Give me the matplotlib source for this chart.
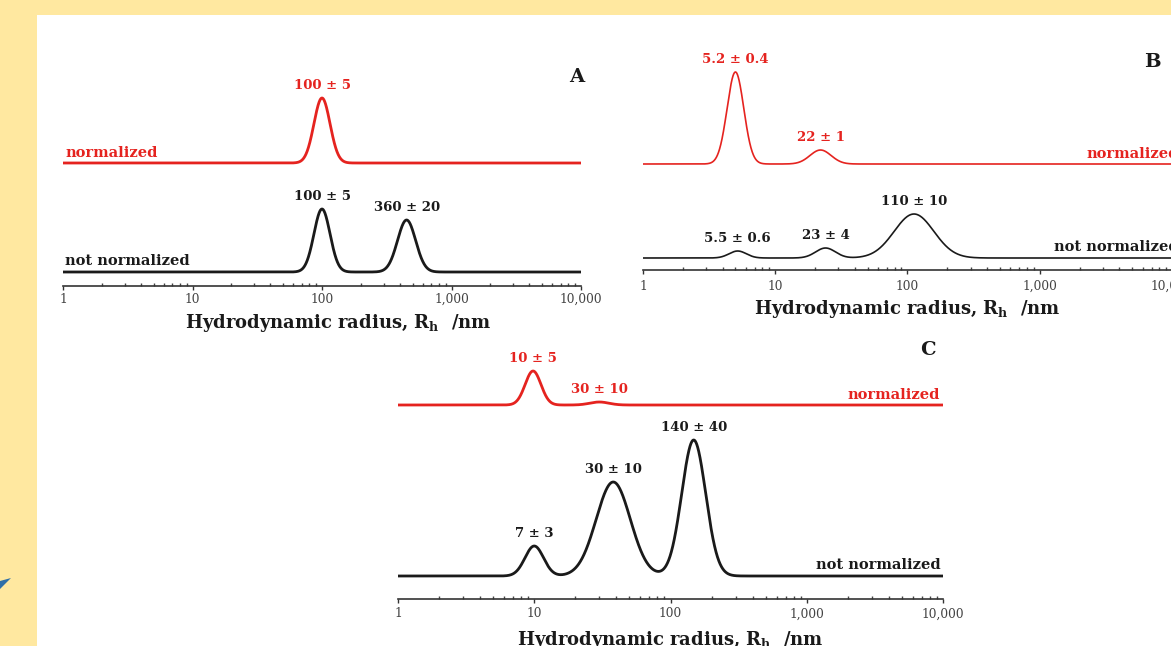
import numpy as np
import matplotlib
matplotlib.use("Agg")
import matplotlib.pyplot as plt
import matplotlib.transforms as mtransforms
from matplotlib.patches import Rectangle, Polygon

plt.rcParams['font.family'] = ['DejaVu Serif']
plt.rcParams['mathtext.fontset'] = 'custom'
plt.rcParams['mathtext.rm'] = 'DejaVu Serif:bold'

W, H = 1171, 646
RED = '#E5231F'
BLACK = '#1a1a1a'

tick_vals = [1, 10, 100, 1000, 10000]
tick_labels = ["1", "10", "100", "1,000", "10,000"]

# peaks: centre (nm), height (px), width (decades)
a_norm_centre = [100]
a_norm_height = [65]
a_norm_width = [0.062]
a_norm_labels = ["100 ± 5"]
a_raw_centre = [100, 450]
a_raw_height = [63, 52]
a_raw_width = [0.062, 0.07]
a_raw_labels = ["100 ± 5", "360 ± 20"]

b_norm_centre = [5.0, 22]
b_norm_height = [92, 14]
b_norm_width = [0.063, 0.08]
b_norm_labels = ["5.2 ± 0.4", "22 ± 1"]
b_raw_centre = [5.2, 24, 112]
b_raw_height = [7, 10, 44]
b_raw_width = [0.065, 0.075, 0.15]
b_raw_labels = ["5.5 ± 0.6", "23 ± 4", "110 ± 10"]

c_norm_centre = [9.8, 30]
c_norm_height = [34, 3]
c_norm_width = [0.058, 0.07]
c_norm_labels = ["10 ± 5", "30 ± 10"]
c_raw_centre = [10, 38, 148]
c_raw_height = [30, 94, 136]
c_raw_width = [0.068, 0.125, 0.088]
c_raw_labels = ["7 ± 3", "30 ± 10", "140 ± 40"]

fig = plt.figure(figsize=(W / 100, H / 100), dpi=100)
fig.patch.set_facecolor('#FFE8A0')
fig.patches.append(Rectangle((37 / W, 0), (W - 37) / W, (H - 15) / H,
                             transform=fig.transFigure, facecolor='white',
                             edgecolor='none', zorder=-10))
fig.patches.append(Polygon([(0, 1 - 581 / H), (11 / W, 1 - 578 / H), (0, 1 - 589 / H)],
                           transform=fig.transFigure, facecolor='#2F6FA8',
                           edgecolor='none', zorder=-5))

r = np.logspace(0, 4, 3000)


def curve(base, centres, heights, widths):
    y = np.full_like(r, base, dtype=float)
    for c, h, w in zip(centres, heights, widths):
        y += h * np.exp(-0.5 * ((np.log10(r) - np.log10(c)) / w) ** 2)
    return y


def panel(left, right, axis_y, top_y, lw, norm_base, raw_base,
          norm_peaks, raw_peaks, letter, letter_xy, name_side, label_x, tick_pad, label_dy):
    ax = fig.add_axes([left / W, 1 - axis_y / H, (right - left) / W, (axis_y - top_y) / H])
    ax.set_facecolor('none')
    ax.set_xscale('log')
    ax.set_xlim(1, 10000)
    ax.set_ylim(0, axis_y - top_y)
    for s in ['top', 'right', 'left']:
        ax.spines[s].set_visible(False)
    ax.spines['bottom'].set_linewidth(1.2)
    ax.spines['bottom'].set_color('#333333')
    ax.set_yticks([])
    ax.set_xticks(tick_vals)
    ax.set_xticklabels(tick_labels, fontsize=8.8, color='#444444')
    ax.tick_params(axis='x', which='major', direction='out', length=3, width=1,
                   color='#333333', pad=tick_pad)
    ax.tick_params(axis='x', which='minor', direction='in', length=2.5, width=1,
                   color='#444444')

    for base, (cen, hei, wid, labs), col in [(norm_base, norm_peaks, RED),
                                             (raw_base, raw_peaks, BLACK)]:
        ax.plot(r, curve(base, cen, hei, wid), color=col, lw=lw, solid_joinstyle='round')
        for c, h, lab in zip(cen, hei, labs):
            ax.annotate(lab, xy=(c, base + h), xytext=(0, 9), textcoords='offset points',
                        ha='center', va='center', fontsize=9.5, fontweight='bold', color=col)

    trans = mtransforms.blended_transform_factory(ax.transAxes, ax.transData)
    if name_side == 'left':
        xf, ha = 0.004, 'left'
    elif name_side == 'right_clip':
        xf, ha = 1.012, 'right'
    else:
        xf, ha = 0.995, 'right'
    ax.text(xf, norm_base + 10, "normalized", transform=trans, ha=ha, va='center',
            fontsize=10.5, fontweight='bold', color=RED)
    ax.text(xf, raw_base + 11, "not normalized", transform=trans, ha=ha, va='center',
            fontsize=10.5, fontweight='bold', color=BLACK)

    fig.text(letter_xy[0] / W, 1 - letter_xy[1] / H, letter, ha='center', va='center',
             fontsize=14, fontweight='bold', color=BLACK)
    ax.annotate(r"Hydrodynamic radius, R$_\mathrm{h}$  /nm", xy=(label_x, 0),
                xycoords='axes fraction', xytext=(0, label_dy), textcoords='offset points',
                ha='center', va='center', fontsize=13, fontweight='bold', color=BLACK)
    return ax


panel(63, 581, 286, 40, 2.0, 123, 14,
      (a_norm_centre, a_norm_height, a_norm_width, a_norm_labels),
      (a_raw_centre, a_raw_height, a_raw_width, a_raw_labels),
      "A", (577, 77), 'left', 0.531, 2, -27)

panel(643, 1172, 270, 40, 1.2, 106, 12,
      (b_norm_centre, b_norm_height, b_norm_width, b_norm_labels),
      (b_raw_centre, b_raw_height, b_raw_width, b_raw_labels),
      "B", (1152, 62), 'right_clip', 0.5, 4, -28)

panel(398, 943, 599, 340, 2.0, 194, 23,
      (c_norm_centre, c_norm_height, c_norm_width, c_norm_labels),
      (c_raw_centre, c_raw_height, c_raw_width, c_raw_labels),
      "C", (928, 350), 'right', 0.5, 3, -29.5)

fig.savefig("out.png", dpi=100, facecolor=fig.get_facecolor())
